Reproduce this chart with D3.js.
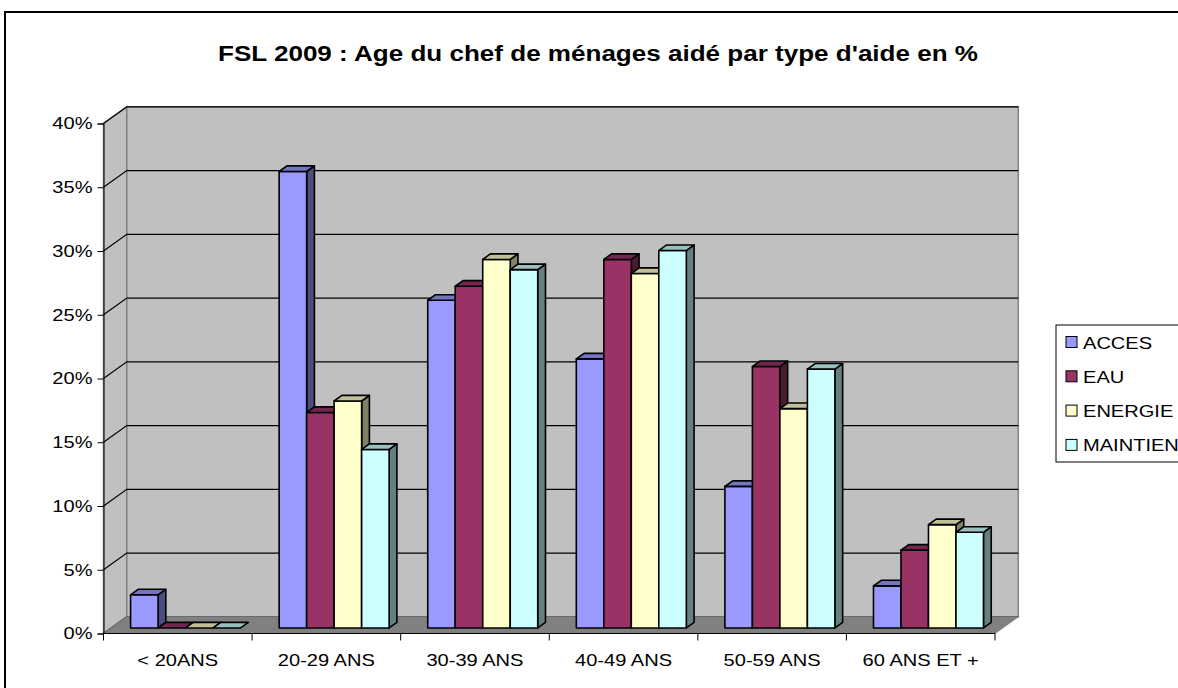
<!DOCTYPE html>
<html>
<head>
<meta charset="utf-8">
<script src="https://cdn.jsdelivr.net/npm/d3@7"></script>
<style>
  html, body { margin: 0; padding: 0; background: #fff; }
  svg { display: block; font-family: "Liberation Sans", Arial, sans-serif; }
</style>
</head>
<body>
<svg id="chart" width="1178" height="688"></svg>
<script>
// Age groups of the household head
const categories = ["< 20ANS", "20-29 ANS", "30-39 ANS", "40-49 ANS", "50-59 ANS", "60 ANS ET +"];
// Share (%) of aided households per type of aid
const acces    = [2.6, 35.8, 25.7, 21.1, 11.1, 3.3];
const eau      = [0,   16.9, 26.8, 28.9, 20.5, 6.1];
const energie  = [0,   17.8, 28.9, 27.8, 17.2, 8.1];
const maintien = [0,   14.0, 28.1, 29.6, 20.3, 7.5];
const seriesNames = ["ACCES", "EAU", "ENERGIE", "MAINTIEN"];
const yTicks = [0, 5, 10, 15, 20, 25, 30, 35, 40];

const series = [
  { name: seriesNames[0], values: acces,    front: "#9999FF", side: "#4D4D80", top: "#7373BF" },
  { name: seriesNames[1], values: eau,      front: "#993366", side: "#4D1A33", top: "#732650" },
  { name: seriesNames[2], values: energie,  front: "#FFFFCC", side: "#808066", top: "#BFBF99" },
  { name: seriesNames[3], values: maintien, front: "#CCFFFF", side: "#668080", top: "#99BFBF" }
];

// the chart's typeface is drawn slightly wide: stretch glyphs horizontally
const WIDE = 1.18;
function widen(sel, k) {
  sel.each(function () {
    const w = this.getComputedTextLength();
    d3.select(this).attr("textLength", w * k).attr("lengthAdjust", "spacingAndGlyphs");
  });
}

const svg = d3.select("#chart");

// outer chart frame
svg.append("rect")
  .attr("x", 5).attr("y", 12).attr("width", 1200).attr("height", 700)
  .attr("fill", "none").attr("stroke", "#000").attr("stroke-width", 2);

// title
svg.append("text")
  .attr("x", 598).attr("y", 61)
  .attr("text-anchor", "middle")
  .attr("font-size", 21.5).attr("font-weight", "bold")
  .attr("textLength", 760).attr("lengthAdjust", "spacingAndGlyphs")
  .text("FSL 2009 : Age du chef de ménages aidé par type d'aide en %");

// front plane of the plot box and the depth (oblique) vector
const left = 103.5, right = 995, bottom = 633.5, topY = 123.5;
const DX = 23.3, DY = -16.7;
const P = (x, y, d) => [x + d * DX, y + d * DY];

const x = d3.scaleBand().domain(categories).range([left, right]).padding(0);
const inner = d3.scaleBand().domain(seriesNames)
  .range([19.3, x.bandwidth() - 19.3]).padding(0);
const y = d3.scaleLinear().domain([0, 40]).range([bottom, topY]);

const poly = pts => pts.map(p => p.join(",")).join(" ");

// side wall (left)
svg.append("polygon")
  .attr("points", poly([P(left, y(0), 0), P(left, y(0), 1), P(left, y(40), 1), P(left, y(40), 0)]))
  .attr("fill", "#C0C0C0").attr("stroke", "#808080").attr("stroke-width", 1.5);
// back wall
svg.append("polygon")
  .attr("points", poly([P(left, y(0), 1), P(right, y(0), 1), P(right, y(40), 1), P(left, y(40), 1)]))
  .attr("fill", "#C0C0C0").attr("stroke", "#808080").attr("stroke-width", 1.5);

// gridlines on both walls
const grid = svg.append("g");
yTicks.forEach(t => {
  const a = P(left, y(t), 0), b = P(left, y(t), 1), c = P(right, y(t), 1);
  grid.append("polyline")
    .attr("points", poly([a, b, c]))
    .attr("fill", "none").attr("stroke", "#000").attr("stroke-width", 1.2);
});

// floor
svg.append("polygon")
  .attr("points", poly([P(left, y(0), 0), P(right, y(0), 0), P(right, y(0), 1), P(left, y(0), 1)]))
  .attr("fill", "#808080").attr("stroke", "#808080").attr("stroke-width", 1);

// y axis
const yAxis = d3.axisLeft(y).tickValues(yTicks).tickFormat(d => d + "%").tickSize(6).tickPadding(5);
const gy = svg.append("g").attr("transform", `translate(${left},0)`).call(yAxis);
gy.select(".domain").attr("stroke", "#000");
gy.selectAll(".tick line").attr("stroke", "#000");
gy.selectAll("text").attr("font-size", 17).attr("fill", "#000")
  .attr("font-family", "Liberation Sans, Arial, sans-serif")
  .call(widen, WIDE);

// x axis: line, category boundary ticks, labels
const gx = svg.append("g");
gx.append("line").attr("x1", left).attr("x2", right).attr("y1", bottom).attr("y2", bottom)
  .attr("stroke", "#000").attr("stroke-width", 1);
const bounds = categories.map(c => x(c)).concat([right]);
gx.selectAll("line.tk").data(bounds).join("line").attr("class", "tk")
  .attr("x1", d => d).attr("x2", d => d).attr("y1", bottom).attr("y2", bottom + 7)
  .attr("stroke", "#000");
gx.selectAll("text").data(categories).join("text")
  .attr("x", d => x(d) + x.bandwidth() / 2).attr("y", 666)
  .attr("text-anchor", "middle").attr("font-size", 17)
  .text(d => d)
  .call(widen, WIDE);

// bars (oblique 3D columns occupying the middle third of the depth)
const d0 = 1 / 3, d1 = 2 / 3;
const bars = svg.append("g");
categories.forEach((cat, ci) => {
  series.forEach(s => {
    const v = s.values[ci];
    const x0 = x(cat) + inner(s.name), x1 = x0 + inner.bandwidth();
    const yb = y(0), yt = y(v);
    const g = bars.append("g").attr("stroke", "#000").attr("stroke-width", 1.6)
      .attr("stroke-linejoin", "round");
    if (v > 0) {
      g.append("polygon").attr("fill", s.side)
        .attr("points", poly([P(x1, yb, d0), P(x1, yb, d1), P(x1, yt, d1), P(x1, yt, d0)]));
      g.append("polygon").attr("fill", s.front)
        .attr("points", poly([P(x0, yb, d0), P(x1, yb, d0), P(x1, yt, d0), P(x0, yt, d0)]));
    }
    g.append("polygon").attr("fill", s.top)
      .attr("points", poly([P(x0, yt, d0), P(x1, yt, d0), P(x1, yt, d1), P(x0, yt, d1)]));
  });
});

// legend
const lg = svg.append("g").attr("transform", "translate(1056,325)");
lg.append("rect").attr("width", 200).attr("height", 137)
  .attr("fill", "#fff").attr("stroke", "#000").attr("stroke-width", 1);
series.forEach((s, i) => {
  const cy = 17 + i * 34.3;
  lg.append("rect").attr("x", 10).attr("y", cy - 5.5).attr("width", 11).attr("height", 11)
    .attr("fill", s.front).attr("stroke", "#000").attr("stroke-width", 1);
  lg.append("text").attr("x", 27).attr("y", cy + 6.5).attr("font-size", 17)
    .text(s.name).call(widen, WIDE);
});
</script>
</body>
</html>
